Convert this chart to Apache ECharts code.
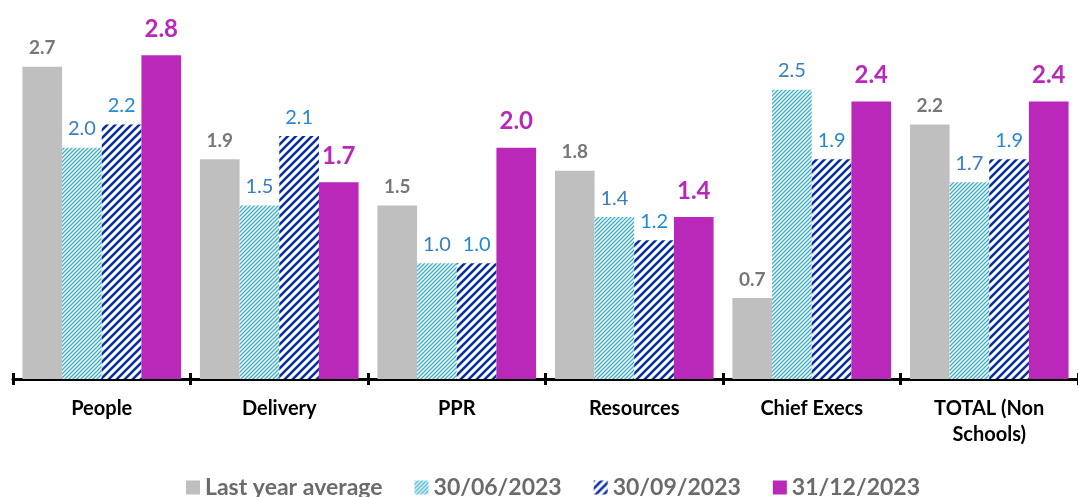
<!DOCTYPE html>
<html>
<head>
<meta charset="utf-8">
<script src="https://cdn.jsdelivr.net/npm/echarts@6/dist/echarts.min.js"></script>
<style>
  html, body { margin: 0; padding: 0; background: #fff; }
  #chart { width: 1078px; height: 497px; }
</style>
</head>
<body>
<div id="chart"></div>
<script>
// chart data
var categories = ['People', 'Delivery', 'PPR', 'Resources', 'Chief Execs', 'TOTAL (Non\nSchools)'];
var seriesNames = ['Last year average', '30/06/2023', '30/09/2023', '31/12/2023'];
var lastYearAvg = [2.7, 1.9, 1.5, 1.8, 0.7, 2.2];
var q2Values    = [2.0, 1.5, 1.0, 1.4, 2.5, 1.7];
var q3Values    = [2.2, 2.1, 1.0, 1.2, 1.9, 1.9];
var q4Values    = [2.8, 1.7, 2.0, 1.4, 2.4, 2.4];

var FONT = 'Lato';

// diagonal hatch pattern ("/" lines)
function makeHatch(size, lineWidth, color) {
    var c = document.createElement('canvas');
    c.width = size;
    c.height = size;
    var ctx = c.getContext('2d');
    ctx.fillStyle = '#ffffff';
    ctx.fillRect(0, 0, size, size);
    ctx.strokeStyle = color;
    ctx.lineWidth = lineWidth;
    ctx.lineCap = 'square';
    ctx.beginPath();
    ctx.moveTo(0, size);
    ctx.lineTo(size, 0);
    ctx.moveTo(-size / 2, size / 2);
    ctx.lineTo(size / 2, -size / 2);
    ctx.moveTo(size / 2, size * 1.5);
    ctx.lineTo(size * 1.5, size / 2);
    ctx.stroke();
    return c;
}

var lightHatch = makeHatch(4, 1.3, '#35AECB');
var darkHatch = makeHatch(8, 2.6, '#0A2FA0');

function labelStyle(color, size, bold, dist) {
    return {
        show: true,
        position: 'top',
        distance: dist,
        color: color,
        fontFamily: FONT,
        fontSize: size,
        fontWeight: bold ? 'bold' : 'normal',
        formatter: function (p) { return p.value.toFixed(1); }
    };
}

var chart = echarts.init(document.getElementById('chart'));

var option = {
    animation: false,
    backgroundColor: '#ffffff',
    grid: {
        left: 13,
        top: 32,
        width: 1075,
        height: 347,
        containLabel: false
    },
    legend: {
        top: 471,
        left: 181,
        itemWidth: 14,
        itemHeight: 14,
        itemGap: 32,
        icon: 'rect',
        textStyle: {
            color: '#6B6B6B',
            fontFamily: FONT,
            fontWeight: 'bold',
            fontSize: 23
        },
        data: seriesNames
    },
    xAxis: [
        {
            type: 'category',
            data: categories,
            axisLine: { lineStyle: { color: '#000', width: 3 } },
            axisTick: { show: true, length: 6, lineStyle: { color: '#000', width: 3 } },
            axisLabel: {
                color: '#000',
                fontFamily: FONT,
                fontWeight: 'bold',
                fontSize: 20,
                margin: 17,
                lineHeight: 26
            }
        },
        {
            type: 'category',
            data: categories,
            position: 'bottom',
            axisLine: { show: false },
            axisTick: { show: true, inside: true, length: 6, lineStyle: { color: '#000', width: 3 } },
            axisLabel: { show: false }
        }
    ],
    yAxis: {
        type: 'value',
        min: 0,
        max: 3,
        show: false,
        splitLine: { show: false }
    },
    series: [
        {
            name: seriesNames[0],
            type: 'bar',
            data: lastYearAvg,
            barGap: '0%',
            barCategoryGap: '10.6%',
            itemStyle: { color: '#BFBFBF' },
            label: labelStyle('#777777', 19, true, 9)
        },
        {
            name: seriesNames[1],
            type: 'bar',
            data: q2Values,
            itemStyle: { color: { image: lightHatch, repeat: 'repeat' } },
            label: labelStyle('#3A7CC2', 20, false, 9)
        },
        {
            name: seriesNames[2],
            type: 'bar',
            data: q3Values,
            itemStyle: { color: { image: darkHatch, repeat: 'repeat' } },
            label: labelStyle('#2489D3', 20, false, 9)
        },
        {
            name: seriesNames[3],
            type: 'bar',
            data: q4Values,
            itemStyle: { color: '#B928B9' },
            label: labelStyle('#B928B9', 24, true, 14)
        }
    ]
};

chart.setOption(option);
</script>
</body>
</html>
